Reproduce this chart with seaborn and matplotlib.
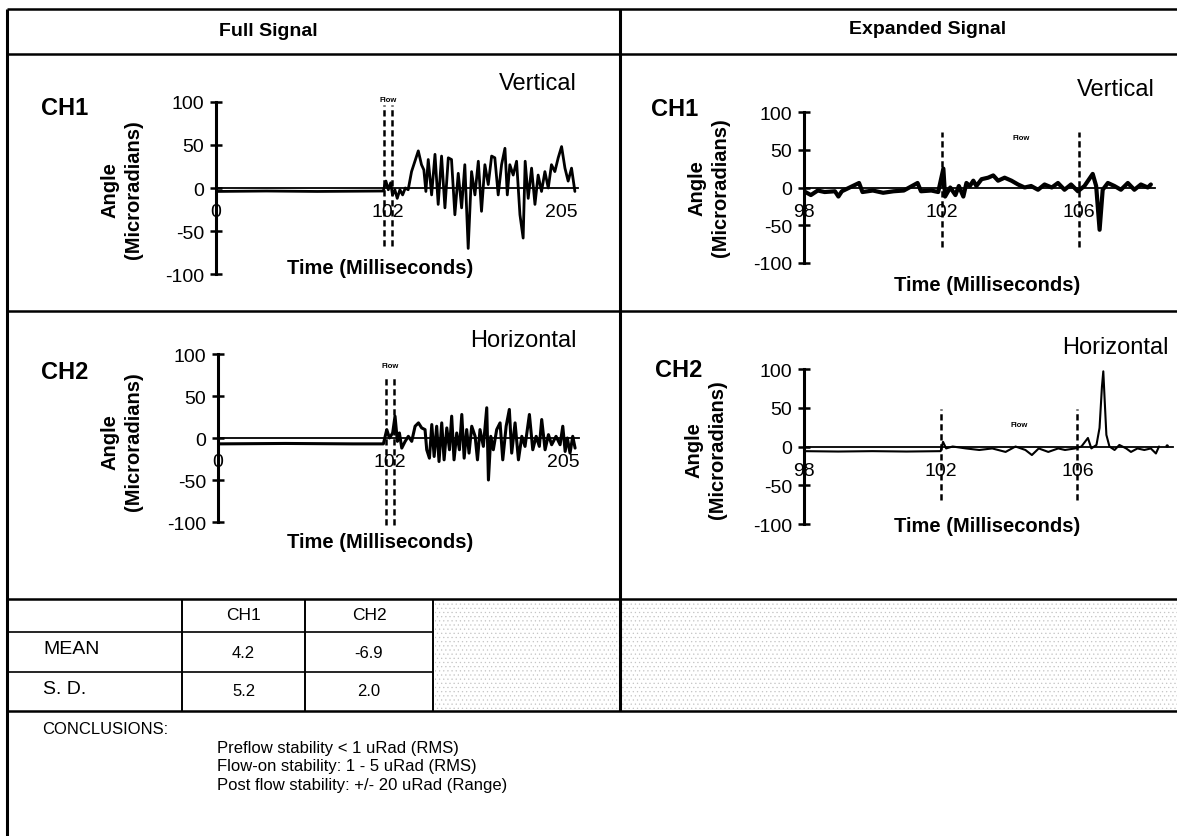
import matplotlib
matplotlib.use("Agg")
import matplotlib.pyplot as plt
from matplotlib.patches import Rectangle
import seaborn as sns

# ---------------- values ----------------
angle_ticks = [-100, -50, 0, 50, 100]
full_ticks = [0, 102, 205]
exp_ticks = [98, 102, 106]
full_flow_marks = [99.6, 104.4]
exp_flow_marks = [102, 106]

# Full signal, CH1 (vertical)
full_ch1_t = [0, 30, 60, 99.2, 100.8, 102.2, 103.6, 104.7, 106.1, 107.5, 109.1, 110.7,
              112.3, 114.0, 116.0, 118.0, 120.0, 121.9, 123.3, 124.5, 125.9, 127.9,
              129.9, 131.8, 133.8, 135.8, 137.8, 139.7, 141.7, 143.7, 145.7, 147.6,
              149.6, 151.6, 153.6, 155.6, 157.5, 159.5, 161.5, 163.5, 165.4, 167.4,
              169.4, 171.4, 172.8, 174.3, 176.3, 178.3, 180.3, 182.2, 183.4, 185.2,
              187.2, 189.2, 191.1, 193.1, 195.1, 197.1, 199.0, 201.0, 203.0, 205.0,
              207.0, 208.9, 210.9, 212.9]
full_ch1_v = [-4, -3.5, -4, -3.5, 8, -2, 6, -8, -2, -12, -2, -8,
              0, -2, 19, 31, 43, 27, 21, -4, 33, -8,
              39, -19, 37, -23, 35, 33, -31, 17, -23, 27,
              -70, 19, -8, 31, -27, 27, 4, 37, 35, -8,
              27, 46, -8, 27, 15, 31, -31, -58, 31, -12,
              23, -19, 15, -4, 19, 0, 27, 19, 35, 48,
              23, 8, 23, -4]

# Full signal, CH2 (horizontal)
full_ch2_t = [0, 40, 80, 98.1, 100.1, 101.7, 103.6, 105.0, 106.4, 107.6, 109.0, 111.0,
              112.9, 114.9, 116.9, 118.9, 120.8, 122.8, 123.8, 125.4, 126.8, 128.2,
              129.7, 131.1, 132.7, 134.1, 135.7, 137.3, 138.6, 140.0, 141.6, 143.2,
              144.6, 146.0, 147.5, 148.9, 150.5, 152.5, 153.9, 155.4, 157.4, 159.4,
              160.4, 161.8, 163.3, 165.3, 167.3, 168.9, 170.9, 172.8, 174.2, 176.2,
              178.2, 180.2, 182.1, 184.7, 186.7, 188.7, 190.6, 192.0, 194.0, 196.0,
              197.9, 200.5, 202.9, 204.5, 205.9, 207.2, 208.8, 210.4, 211.8]
full_ch2_v = [-7, -6.5, -7, -7, 10, 0, 6, 26, -4, 6, -12, -4,
              2, -4, 14, 18, 12, 10, -14, -24, 16, -22,
              14, -28, 18, -26, 12, -14, 26, -26, 6, -14,
              28, -24, 10, -18, 14, 2, -26, 10, -10, 36,
              -50, 2, -14, 10, 18, -26, 14, 34, -18, 18,
              -26, 2, -10, 28, -14, 2, -10, 22, -14, 4,
              -8, 2, -8, 14, -16, 0, -18, 2, -12]

# Expanded signal, CH1 (vertical)
exp_ch1_t = [98.0, 98.2, 98.4, 98.6, 98.9, 99.0, 99.1, 99.6, 99.7, 100.0, 100.3, 100.6,
             100.9, 101.3, 101.4, 101.7, 101.9, 102.05, 102.1, 102.25, 102.4, 102.5,
             102.63, 102.72, 102.82, 102.92, 103.01, 103.16, 103.35, 103.5, 103.64,
             103.83, 104.03, 104.22, 104.41, 104.6, 104.8, 104.99, 105.2, 105.38,
             105.57, 105.76, 105.96, 106.15, 106.39, 106.49, 106.59, 106.68, 106.83,
             107.02, 107.21, 107.41, 107.6, 107.79, 107.99, 108.08]
exp_ch1_v = [-5, -10, -4, -6, -5, -12, -5, 6, -6, -4, -7, -5,
             -4, 6, -5, -4, -6, 25, -12, 0, -10, 2,
             -12, 6, 2, 9, 2, 11, 13, 16, 9,
             13, 9, 4, 0, 2, -3, 4, 0, 6,
             -3, 4, -5, 2, 18, 2, -56, -3, 6,
             2, -3, 6, -3, 4, 0, 4]

# Expanded signal, CH2 (horizontal)
exp_ch2_t = [98.0, 99.0, 100.0, 101.0, 102.0, 102.07, 102.16, 102.35, 102.74, 103.13,
             103.51, 103.9, 104.19, 104.48, 104.67, 104.87, 105.15, 105.44, 105.64,
             105.93, 106.12, 106.31, 106.41, 106.56, 106.65, 106.72, 106.76, 106.8,
             106.85, 106.94, 107.09, 107.23, 107.43, 107.57, 107.76, 107.96, 108.15,
             108.3, 108.39]
exp_ch2_v = [-6, -6.5, -6, -6.5, -6, 6, -2.5, 0, -2.5, -4.5,
             -2.5, -7, 0, -4.5, -11, -2.5, -7, -2.5, -4.5,
             -2.5, 0, 11, -2.5, 2, 24, 77, 97, 60,
             15, 0, -4.5, 2, -2.5, -7, -2.5, -4.5, -2.5,
             -9, 0]
exp_ch2_tail = (108.63, 0.6)

table_cols = ["CH1", "CH2"]
table_rows = ["MEAN", "S. D."]
table_mean = ["4.2", "-6.9"]
table_sd = ["5.2", "2.0"]

conclusions = ["Preflow stability < 1 uRad (RMS)",
               "Flow-on stability: 1 - 5 uRad (RMS)",
               "Post flow stability: +/- 20 uRad (Range)"]

# ---------------- figure ----------------
sns.set_style("white")
plt.rcParams['font.family'] = ['Liberation Sans', 'DejaVu Sans']
plt.rcParams['axes.unicode_minus'] = False
plt.rcParams['text.color'] = 'black'
plt.rcParams['xtick.color'] = 'black'
plt.rcParams['ytick.color'] = 'black'
plt.rcParams['xtick.labelcolor'] = 'black'
plt.rcParams['ytick.labelcolor'] = 'black'

W, H = 1177, 837
fig = plt.figure(figsize=(W / 100, H / 100), dpi=100)

# page grid in pixel coordinates
bg = fig.add_axes([0, 0, 1, 1])
bg.set_xlim(0, W)
bg.set_ylim(H, 0)
bg.axis('off')

def hline(y, xa, xb, lw=1.8):
    bg.plot([xa, xb], [y, y], color='black', lw=lw, solid_capstyle='butt')

def vline(x, ya, yb, lw=1.8):
    bg.plot([x, x], [ya, yb], color='black', lw=lw, solid_capstyle='butt')

hline(10, 7, W)
hline(55, 7, W)
hline(312, 7, W)
hline(600, 7, W)
hline(633, 7, 433, lw=1.2)
hline(673, 7, 433, lw=1.2)
hline(712, 7, W)
vline(7, 10, H, lw=2.2)
vline(620, 10, 712, lw=2.2)
for cx in [182, 305, 433]:
    vline(cx, 600, 712, lw=1.4)

# speckled scan area (light grain)
plt.rcParams['hatch.linewidth'] = 0.4
for xa, xb in [(435, 618), (622, W)]:
    bg.add_patch(Rectangle((xa, 602), xb - xa, 108, fill=False, hatch='....',
                           edgecolor='#c4c4c4', lw=0))

bg.text(268, 31, "Full Signal", fontsize=14, fontweight='bold', ha='center', va='center')
bg.text(928, 29, "Expanded Signal", fontsize=14, fontweight='bold', ha='center', va='center')


def panel(rect, xlim, t, v, ticks, marks, span, flow_xy, lw):
    x0, x1, ytop, ybot = rect
    ax = fig.add_axes([x0 / W, 1 - ybot / H, (x1 - x0) / W, (ybot - ytop) / H])
    ax.patch.set_alpha(0)
    sns.lineplot(x=t, y=v, ax=ax, color='black', lw=lw, estimator=None, sort=False)
    ax.set_xlim(*xlim)
    ax.set_ylim(-100, 100)
    ax.spines['top'].set_visible(False)
    ax.spines['right'].set_visible(False)
    ax.spines['bottom'].set_position(('data', 0))
    ax.spines['bottom'].set_linewidth(1.3)
    ax.spines['left'].set_linewidth(2.2)
    ax.spines['left'].set_color('black')
    ax.spines['bottom'].set_color('black')
    ax.set_xticks(ticks)
    ax.set_xticklabels([str(k) for k in ticks])
    ax.set_yticks(angle_ticks)
    ax.tick_params(axis='x', length=0, pad=11, labelsize=14)
    ax.tick_params(axis='y', direction='inout', length=8, width=1.8, pad=4.5, labelsize=14,
                   left=True)
    for m in marks:
        ax.plot([m, m], span, ls=(0, (2.5, 1.5)), color='black', lw=1.8, clip_on=False)
    ax.text(flow_xy[0], flow_xy[1], "Flow", fontsize=5.5, fontweight='bold',
            ha='center', va='center')
    ax.set_xlabel('')
    ax.set_ylabel('')
    return ax


ax1 = panel((216, 577.6, 102.7, 275.3), (0, 214.5), full_ch1_t, full_ch1_v, full_ticks,
            full_flow_marks, (-67, 96), (102, 102), 2.0)
ax2 = panel((218, 578.8, 355, 523), (0, 214), full_ch2_t, full_ch2_v, full_ticks,
            full_flow_marks, (-103, 75), (102, 86), 2.2)
ax3 = panel((804, 1155, 113, 264), (98, 108.2), exp_ch1_t, exp_ch1_v, exp_ticks,
            exp_flow_marks, (-79, 73), (104.3, 66), 3.0)
ax4 = panel((804, 1173, 370, 525), (98, 108.8), exp_ch2_t, exp_ch2_v, exp_ticks,
            exp_flow_marks, (-69, 48), (104.3, 28), 1.5)
sns.scatterplot(x=[exp_ch2_tail[0]], y=[exp_ch2_tail[1]], ax=ax4, color='black', s=6,
                edgecolor='none', clip_on=False)

# panel captions
for (x, y, s) in [(41, 108, "CH1"), (41, 372, "CH2"), (651, 109, "CH1"), (655, 370, "CH2")]:
    bg.text(x, y, s, fontsize=17, fontweight='bold', ha='left', va='center')
for (x, y, s) in [(577, 84, "Vertical"), (577, 341, "Horizontal"),
                  (1155, 90, "Vertical"), (1169, 348, "Horizontal")]:
    bg.text(x, y, s, fontsize=17, ha='right', va='center')
for (x, y) in [(122, 190), (122, 442), (709, 188), (706, 450)]:
    bg.text(x, y, "Angle\n(Microradians)", rotation=90, fontsize=14.5, fontweight='bold',
            ha='center', va='center', multialignment='center', linespacing=1.3)
for (x, y) in [(380, 268), (380, 542), (987, 285), (987, 527)]:
    bg.text(x, y, "Time (Milliseconds)", fontsize=14.5, fontweight='bold',
            ha='center', va='center')

# statistics table
col_x = [243.5, 369]
for cx, name in zip(col_x, table_cols):
    bg.text(cx, 616, name, fontsize=12.5, ha='center', va='center')
bg.text(43, 650, table_rows[0], fontsize=14, ha='left', va='center')
bg.text(43, 689, table_rows[1], fontsize=14, ha='left', va='center')
for cx, m, s in zip(col_x, table_mean, table_sd):
    bg.text(cx, 653, m, fontsize=12, ha='center', va='center')
    bg.text(cx, 692, s, fontsize=12, ha='center', va='center')

bg.text(42, 729, "CONCLUSIONS:", fontsize=12, ha='left', va='center')
for i, line in enumerate(conclusions):
    bg.text(217, 748 + 19 * i, line, fontsize=12, ha='left', va='center')

fig.savefig("out.png", dpi=100)
